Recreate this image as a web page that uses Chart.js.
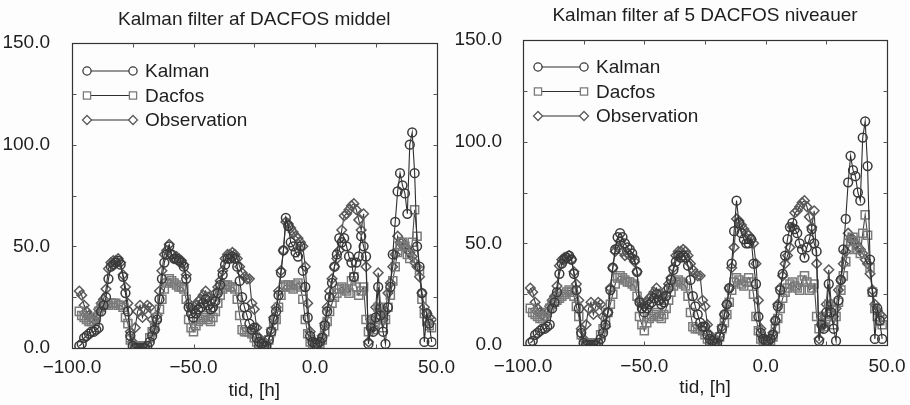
<!DOCTYPE html>
<html>
<head>
<meta charset="utf-8">
<script src="https://cdn.jsdelivr.net/npm/chart.js@4.4.1/dist/chart.umd.min.js"></script>
<style>
  html, body { margin: 0; padding: 0; background: #ffffff; }
  #wrap { position: relative; width: 910px; height: 405px; overflow: hidden; background: #fdfdfd; }
  .pane { position: absolute; top: 0; width: 455px; height: 405px; }
  #pL { left: 0; }
  #pR { left: 455px; }
</style>
</head>
<body>
<div id="wrap">
  <div class="pane" id="pL"><canvas id="cL" width="455" height="405"></canvas></div>
  <div class="pane" id="pR"><canvas id="cR" width="455" height="405"></canvas></div>
</div>
<script>
// ---------------- DATA ----------------
const HOUR_START = -97;   // first hour of the series
const HOUR_END = 48;      // last hour of the series

const titleLeft = "Kalman filter af DACFOS middel";
const titleRight = "Kalman filter af 5 DACFOS niveauer";
const xAxisTitle = "tid, [h]";
const seriesNames = ["Kalman", "Dacfos", "Observation"];
const xTickValues = [-100, -50, 0, 50];
const yTickValues = [0, 50, 100, 150];

// Observation (same in both panels), hours -97 .. 48
const observation = [
  28,26,21,18,16,15,14,16,19,22,
  24,29,39,42,43,43,44,42,36,30,
  22,8,3,10,18,21,15,19,21,20,
  14,9,16,28,38,46,48,51,46,44,
  45,44,43,41,36,22,20,19,21,23,
  24,26,28,25,23,24,27,30,33,38,
  44,46,46,47,46,44,40,37,35,34,
  34,22,19,10,5,3,2,2,5,9,
  15,20,28,38,48,62,61,59,57,55,
  54,52,50,40,22,8,4,2,2,3,
  6,12,20,28,34,40,44,48,58,65,
  66,68,70,71,68,63,58,66,40,3,
  14,10,20,37,20,14,18,27,32,40,
  46,55,52,52,50,48,47,45,42,40,
  35,27,20,17,15,14
];

// Left panel: DACFOS middel
const dacfosLeft = [
  18,16,15,14,13,13,13,15,18,20,
  21,21,21,22,22,22,21,21,20,15,
  12,4,1,1,1,1,1,1,1,5,
  8,11,15,19,24,29,32,34,33,32,
  31,30,30,29,24,14,10,8,11,13,
  14,15,16,14,13,15,18,22,26,29,
  31,31,30,30,29,24,16,9,8,8,
  8,7,5,3,2,1,1,2,4,8,
  11,14,20,26,30,31,31,30,29,31,
  32,30,24,14,7,3,2,1,1,2,
  4,8,13,18,22,25,27,29,30,29,
  28,27,33,35,30,26,28,30,14,8,
  12,9,14,20,15,10,14,20,26,33,
  40,47,50,52,50,46,44,52,68,55,
  38,24,17,13,11,10
];
const kalmanLeft = [
  1,2,5,6,7,8,8,9,10,18,
  21,25,34,40,41,42,43,41,35,27,
  18,6,1,0,0,0,0,0,1,3,
  6,9,14,24,34,42,46,50,46,44,
  44,43,42,40,34,20,17,15,17,19,
  20,22,24,21,19,20,23,27,31,36,
  41,44,44,45,44,40,33,25,20,16,
  12,9,10,5,3,2,1,1,4,8,
  14,18,26,37,48,64,60,52,50,47,
  45,50,38,30,15,6,3,2,2,3,
  5,11,18,25,32,40,46,54,52,54,
  50,45,42,35,42,45,55,50,45,2,
  10,8,15,30,16,8,2,20,30,46,
  62,77,86,80,76,66,100,106,86,50,
  40,27,3,17,12,3
];

// Right panel: 5 DACFOS niveauer
const dacfosRight = [
  18,16,15,14,13,13,14,16,18,20,
  21,22,23,24,25,26,27,26,24,19,
  14,5,1,1,1,1,1,1,1,5,
  8,12,16,20,25,30,33,34,33,32,
  31,31,30,29,24,14,10,7,11,13,
  14,15,16,14,13,15,18,22,26,29,
  31,32,31,30,29,24,16,9,8,8,
  8,7,5,3,2,1,1,2,4,8,
  11,15,21,27,31,33,32,30,29,31,
  33,31,25,14,7,3,2,1,1,2,
  4,8,13,18,23,26,28,30,31,29,
  28,27,32,34,31,27,28,30,14,8,
  12,9,14,20,15,10,14,21,27,34,
  41,47,51,53,51,47,45,55,64,54,
  38,26,18,14,12,10
];
const kalmanRight = [
  1,2,5,6,7,8,8,9,10,18,
  21,26,35,40,42,43,44,42,35,27,
  18,6,1,0,0,0,0,0,1,3,
  6,10,16,27,38,47,53,55,53,50,
  48,47,45,42,36,21,18,16,18,20,
  21,23,25,22,20,21,24,28,32,37,
  41,44,43,44,43,39,32,24,19,15,
  11,9,9,5,3,2,1,1,4,8,
  15,20,28,40,56,71,60,55,52,50,
  50,52,40,30,14,6,3,2,2,3,
  5,12,19,27,35,44,52,58,60,57,
  55,50,47,43,48,52,57,50,46,2,
  10,8,16,30,16,8,2,22,32,47,
  62,80,93,86,83,75,71,102,110,88,
  42,26,3,18,12,3
];

// ---------------- BUILD ----------------
const hours = [];
for (let h = HOUR_START; h <= HOUR_END; h++) hours.push(h);
const toXY = arr => arr.map((v, i) => ({ x: hours[i], y: v }));

const FONT = "'Liberation Sans', Arial, Helvetica, sans-serif";
const TEXT = '#1e1e1e';

const styles = [
  { pointStyle: 'circle',  radius: 4.4, point: '#3a3a3a', line: '#2e2e2e' },
  { pointStyle: 'rect',    radius: 5.7, point: '#7a7a7a', line: '#4a4a4a' },
  { pointStyle: 'rectRot', radius: 4.8, point: '#5a5a5a', line: '#3a3a3a' }
];

function makeDatasets(kal, dac, obs) {
  return [kal, dac, obs].map((arr, i) => ({
    label: seriesNames[i],
    data: toXY(arr),
    borderColor: styles[i].line,
    borderWidth: 1.1,
    pointStyle: styles[i].pointStyle,
    pointRadius: styles[i].radius,
    pointBorderColor: styles[i].point,
    pointBackgroundColor: 'rgba(255,255,255,0)',
    pointBorderWidth: 1.5,
    tension: 0,
    fill: false
  }));
}

function drawMarker(ctx, style, x, y, r, color) {
  ctx.save();
  ctx.strokeStyle = color;
  ctx.lineWidth = 1.3;
  ctx.fillStyle = '#ffffff';
  ctx.beginPath();
  if (style === 'circle') {
    ctx.arc(x, y, r, 0, Math.PI * 2);
  } else if (style === 'rect') {
    const s = r * Math.SQRT1_2;
    ctx.rect(x - s, y - s, 2 * s, 2 * s);
  } else {
    ctx.moveTo(x, y - r); ctx.lineTo(x + r, y); ctx.lineTo(x, y + r); ctx.lineTo(x - r, y); ctx.closePath();
  }
  ctx.fill();
  ctx.stroke();
  ctx.restore();
}

const framePlugin = {
  id: 'frame',
  afterDraw(chart, args, opts) {
    const { ctx, chartArea: a, scales } = chart;
    const xs = scales.x, ys = scales.y;
    ctx.save();
    // box
    ctx.strokeStyle = '#333333';
    ctx.lineWidth = 1.2;
    const L = Math.round(a.left) + 0.5, R = Math.round(a.right) + 0.5;
    const T = Math.round(a.top) + 0.5, B = Math.round(a.bottom) + 0.5;
    ctx.strokeRect(L, T, R - L, B - T);
    // inward minor ticks
    ctx.strokeStyle = '#555';
    ctx.lineWidth = 1;
    ctx.beginPath();
    [25, 50, 75, 100, 125].forEach(v => {
      const py = Math.round(ys.getPixelForValue(v)) + 0.5;
      ctx.moveTo(L, py); ctx.lineTo(L + 4, py);
      ctx.moveTo(R, py); ctx.lineTo(R - 4, py);
    });
    [-75, -50, -25, 0, 25].forEach(v => {
      const px = Math.round(xs.getPixelForValue(v)) + 0.5;
      ctx.moveTo(px, B); ctx.lineTo(px, B - 4);
      ctx.moveTo(px, T); ctx.lineTo(px, T + 4);
    });
    ctx.stroke();
    // title
    ctx.fillStyle = TEXT;
    ctx.font = '19px ' + FONT;
    ctx.textAlign = 'center';
    ctx.textBaseline = 'middle';
    ctx.fillText(opts.title, (a.left + a.right) / 2, opts.titleY);
    // legend
    ctx.font = '19px ' + FONT;
    ctx.textAlign = 'left';
    chart.data.datasets.forEach((ds, i) => {
      const y = a.top + opts.legendTop + i * 24.5;
      const x1 = a.left + 15, x2 = a.left + 61;
      ctx.strokeStyle = '#2e2e2e';
      ctx.lineWidth = 1.1;
      ctx.beginPath();
      ctx.moveTo(x1, y); ctx.lineTo(x2, y);
      ctx.stroke();
      drawMarker(ctx, styles[i].pointStyle, x1, y, styles[i].radius - (i === 1 ? 0.6 : 0.3), styles[i].point);
      drawMarker(ctx, styles[i].pointStyle, x2, y, styles[i].radius - (i === 1 ? 0.6 : 0.3), styles[i].point);
      ctx.fillStyle = TEXT;
      ctx.fillText(ds.label, a.left + 73, y + 1);
    });
    ctx.restore();
  }
};

function makeChart(id, kal, dac, obs, cfg) {
  return new Chart(document.getElementById(id), {
    type: 'line',
    data: { datasets: makeDatasets(kal, dac, obs) },
    plugins: [framePlugin],
    options: {
      responsive: false,
      animation: false,
      events: [],
      layout: { padding: { top: cfg.top, right: cfg.right, left: 0, bottom: 0 } },
      plugins: {
        legend: { display: false },
        title: { display: false },
        tooltip: { enabled: false },
        frame: { title: cfg.title, titleY: cfg.titleY, legendTop: cfg.legendTop }
      },
      scales: {
        x: {
          type: 'linear',
          min: -100, max: 50,
          afterBuildTicks: s => { s.ticks = xTickValues.map(v => ({ value: v })); },
          afterFit: s => { s.height = cfg.xh; },
          grid: { display: false },
          border: { display: false },
          ticks: {
            autoSkip: false, maxRotation: 0, padding: cfg.xpad,
            color: TEXT, font: { family: FONT, size: 19 },
            callback: v => (v < 0 ? '\u2212' : '') + Math.abs(v).toFixed(1)
          },
          title: {
            display: true, text: xAxisTitle, color: TEXT,
            font: { family: FONT, size: 19 },
            padding: { top: 0, bottom: cfg.xtitlePad }
          }
        },
        y: {
          type: 'linear',
          min: 0, max: 150,
          afterBuildTicks: s => { s.ticks = yTickValues.map(v => ({ value: v })); },
          afterFit: s => { s.width = cfg.yw; },
          grid: { display: false },
          border: { display: false },
          ticks: {
            padding: cfg.ypad, color: TEXT,
            font: { family: FONT, size: 19 },
            callback: v => v.toFixed(1)
          }
        }
      }
    }
  });
}

makeChart('cL', kalmanLeft, dacfosLeft, observation, {
  title: titleLeft, titleY: 20, legendTop: 28,
  top: 43, right: 18, yw: 72, xh: 57, xpad: 0, ypad: 14, xtitlePad: 3
});
makeChart('cR', kalmanRight, dacfosRight, observation, {
  title: titleRight, titleY: 16, legendTop: 27,
  top: 40, right: 23, yw: 68, xh: 60, xpad: 2, ypad: 13, xtitlePad: 6
});
</script>
</body>
</html>
